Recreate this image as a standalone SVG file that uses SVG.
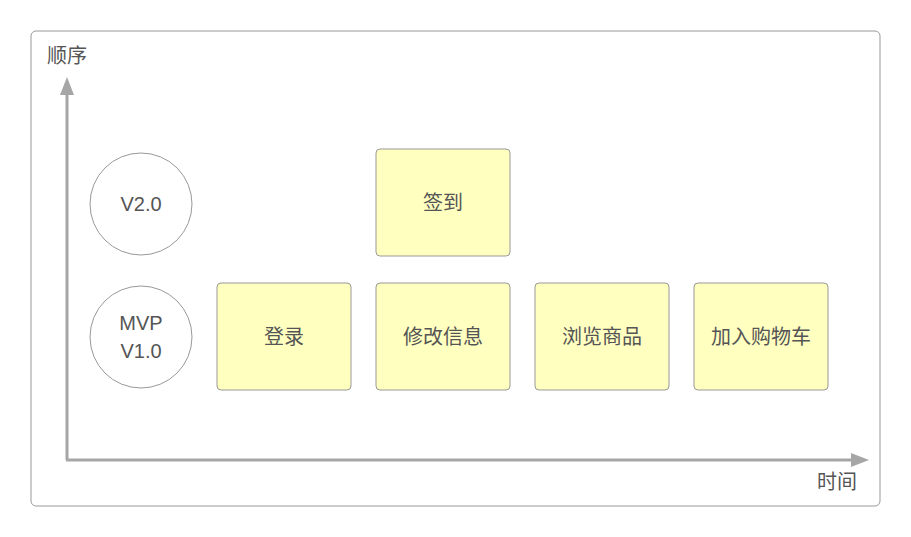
<svg xmlns="http://www.w3.org/2000/svg" width="911" height="537" viewBox="0 0 911 537">
<style>
.t{font-family:"Helvetica","Liberation Sans","Noto Sans CJK SC",sans-serif;font-size:20px;fill:#555;text-anchor:middle;dominant-baseline:central}
.b{fill:#ffffc0;stroke:#999;stroke-width:1}
.c{fill:#fff;stroke:#999;stroke-width:1}
.ax{stroke:#a6a6a6;stroke-width:3;fill:none}
</style>
<defs><marker id="ah" markerWidth="6" markerHeight="6" refX="3" refY="3" orient="auto" markerUnits="userSpaceOnUse" viewBox="0 0 6 6"><path d="M0,0L6,3L0,6z" fill="#a6a6a6"/></marker></defs>
<rect x="31" y="31" width="849" height="475" rx="5" fill="#fff" stroke="#999"/>
<g id="connectors">
<path class="ax" d="M67,460V90"/><path d="M60,95L67,77L74,95z" fill="#a6a6a6"/>
<path class="ax" d="M66,460H855"/><path d="M851,453L869,460L851,467z" fill="#a6a6a6"/>
</g>
<g id="ylabel"><text class="t" x="67" y="56">顺序</text></g>
<g id="xlabel"><text class="t" x="837" y="482">时间</text></g>
<g id="v2"><circle class="c" cx="141" cy="204" r="51"/><text class="t" x="141" y="204">V2.0</text></g>
<g id="v1"><circle class="c" cx="141" cy="337" r="51"/><text class="t" x="141" y="323">MVP</text><text class="t" x="141" y="351">V1.0</text></g>
<g id="n1"><rect class="b" x="217" y="283" width="134" height="107" rx="4"/><text class="t" x="284" y="337">登录</text></g>
<g id="n2"><rect class="b" x="376" y="149" width="134" height="107" rx="4"/><text class="t" x="443" y="203">签到</text></g>
<g id="n3"><rect class="b" x="376" y="283" width="134" height="107" rx="4"/><text class="t" x="443" y="337">修改信息</text></g>
<g id="n4"><rect class="b" x="535" y="283" width="134" height="107" rx="4"/><text class="t" x="602" y="337">浏览商品</text></g>
<g id="n5"><rect class="b" x="694" y="283" width="134" height="107" rx="4"/><text class="t" x="761" y="337">加入购物车</text></g>
</svg>
